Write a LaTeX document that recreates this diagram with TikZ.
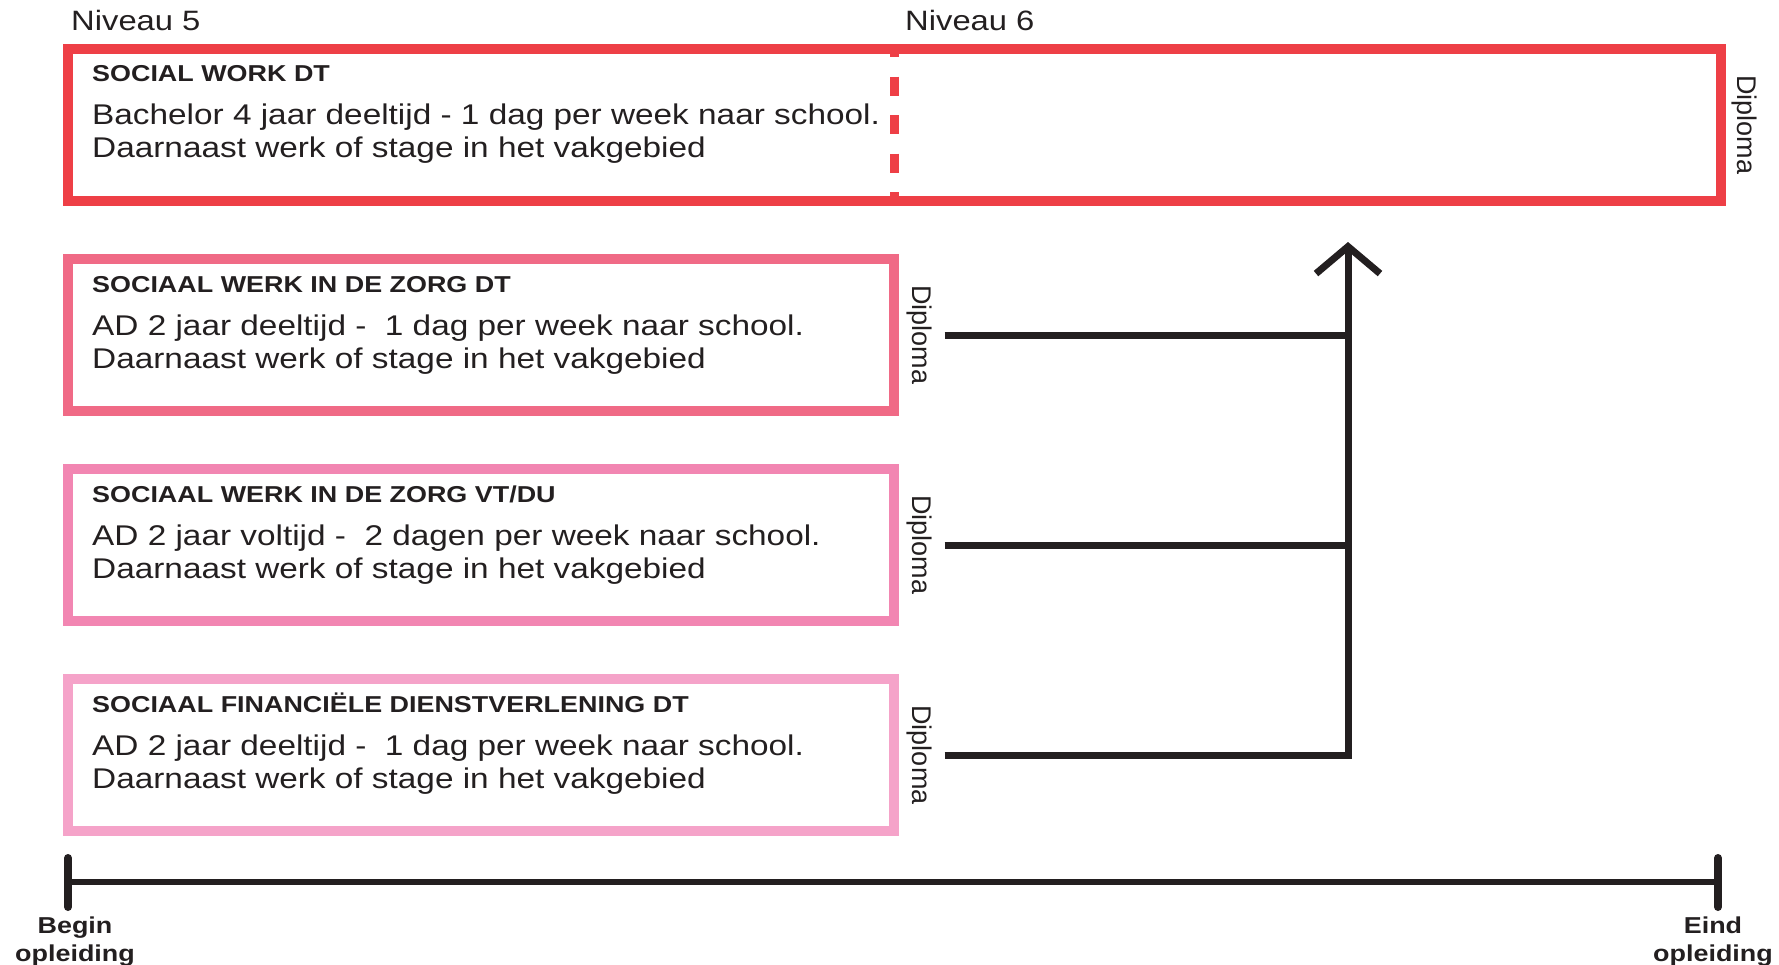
\documentclass[tikz,border=0pt]{standalone}
\usepackage{fontspec}
\setmainfont[FakeStretch=1.17]{Liberation Sans}
\newfontfamily\diplfont{Liberation Sans}
\usepackage{tikz}
\usetikzlibrary{arrows.meta, positioning}
\definecolor{ink}{HTML}{231F20}
\definecolor{swred}{HTML}{EE3F46}
\definecolor{zorgdtroze}{HTML}{F06A86}
\definecolor{zorgvtroze}{HTML}{F286B2}
\definecolor{sfdroze}{HTML}{F5A3C9}
\newcommand{\kop}[1]{{\bfseries\fontsize{23}{33}\selectfont #1}}
\tikzstyle{opleiding} = [rectangle, 
line width=10.5pt, 
inner sep=0pt, 
outer sep=0pt,
minimum width=826pt, 
minimum height=152pt]
\tikzstyle{tekst} = [anchor=base west, % base = last line
align=left, 
inner sep=0pt, 
text=ink, 
font=\fontsize{28.5}{33}\selectfont]
\tikzstyle{niveau} = [anchor=base west, inner sep=0pt, text=ink, font=\fontsize{28}{33}\selectfont]
\tikzstyle{diploma} = [rotate=-90, inner sep=13pt, outer sep=0pt, text=ink, 
font=\diplfont\fontsize{27}{30}\selectfont]
\tikzstyle{mijlpaal} = [anchor=north, align=center, inner sep=0pt, text=ink, 
font=\bfseries\fontsize{23}{28}\selectfont]
\tikzstyle{grens} = [draw=swred, line width=9pt, dash pattern=on 19pt off 19.5pt, dash phase=11pt]
\tikzstyle{link} = [line width=7pt, draw=ink]
\tikzstyle{arrow} = [link, -{Straight Barb[length=27pt, width=64pt]}]
\tikzstyle{tijdlijn} = [line width=6pt, draw=ink]
\tikzstyle{streep} = [line width=8pt, draw=ink, line cap=round]

\begin{document}
\begin{tikzpicture}[x=1pt, y=1pt, node distance=210pt]
\useasboundingbox (0,0) rectangle (1779,-964);

\node (sw) [opleiding, draw=swred, minimum width=1653pt] at (894.5,-125) {};
\node (zorgdt) [opleiding, draw=zorgdtroze, below of=sw, xshift=-413.5pt] {};
\node (zorgvt) [opleiding, draw=zorgvtroze, below of=zorgdt] {};
\node (sfd) [opleiding, draw=sfdroze, below of=zorgvt] {};
\draw [grens] (sw.north) -- (sw.south);

\node (niv5) [niveau] at ([xshift=3pt, yshift=19pt]sw.north west) {Niveau 5};
\node (niv6) [niveau] at ([xshift=10.5pt, yshift=19pt]sw.north) {Niveau 6};

\node (swtekst) [tekst] at ([xshift=24pt, yshift=-108.5pt]sw.north west) {\kop{SOCIAL WORK DT}\\[10.5pt]
Bachelor 4 jaar deeltijd - 1 dag per week naar school.\\Daarnaast werk of stage in het vakgebied};
\node (zorgdttekst) [tekst] at ([xshift=24pt, yshift=-109.5pt]zorgdt.north west) {\kop{SOCIAAL WERK IN DE ZORG DT}\\[10.5pt]
AD 2 jaar deeltijd - \ 1 dag per week naar school.\\Daarnaast werk of stage in het vakgebied};
\node (zorgvttekst) [tekst] at ([xshift=24pt, yshift=-109.5pt]zorgvt.north west) {\kop{SOCIAAL WERK IN DE ZORG VT/DU}\\[10.5pt]
AD 2 jaar voltijd - \ 2 dagen per week naar school.\\Daarnaast werk of stage in het vakgebied};
\node (sfdtekst) [tekst] at ([xshift=24pt, yshift=-109.5pt]sfd.north west) {\kop{SOCIAAL FINANCIËLE DIENSTVERLENING DT}\\[10.5pt]
AD 2 jaar deeltijd - \ 1 dag per week naar school.\\Daarnaast werk of stage in het vakgebied};

\node (d1) [diploma] at ([xshift=23pt]sw.east) {Diploma};
\node (d2) [diploma] at ([xshift=25pt]zorgdt.east) {Diploma};
\node (d3) [diploma] at ([xshift=25pt]zorgvt.east) {Diploma};
\node (d4) [diploma] at ([xshift=25pt]sfd.east) {Diploma};

\coordinate (top) at (1348,-242);
\draw [arrow] (d4) -| (top);
\draw [link] (d2) -- (d2 -| top);
\draw [link] (d3) -- (d3 -| top);

\coordinate (begin) at (68,-882);
\coordinate (eind) at (1718,-882);
\draw [tijdlijn] (begin) -- (eind);
\draw [streep] ([yshift=24pt]begin) -- ([yshift=-25pt]begin);
\draw [streep] ([yshift=24pt]eind) -- ([yshift=-25pt]eind);
\node (beginlabel) [mijlpaal] at ([xshift=7pt, yshift=-35pt]begin) {Begin\\opleiding};
\node (eindlabel) [mijlpaal] at ([xshift=-5pt, yshift=-35pt]eind) {Eind\\opleiding};

\end{tikzpicture}
\end{document}
